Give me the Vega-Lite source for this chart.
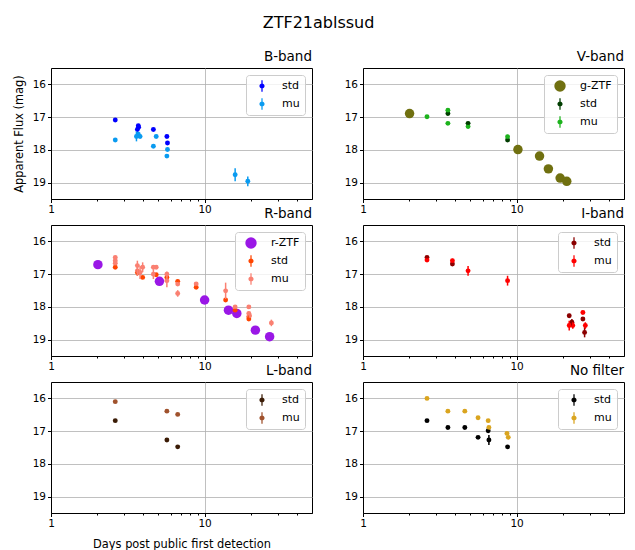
{
  "$schema": "https://vega.github.io/schema/vega-lite/v6.json",
  "padding": {"left": 12, "top": 15, "right": 5, "bottom": 3},
  "title": {"text": "ZTF21ablssud", "fontSize": 16, "fontWeight": "normal", "anchor": "middle", "offset": 18, "color": "#000"},
  "datasets": {
    "B": [
      {"series": "std", "days": 2.62, "mag": 17.09, "err": 0.04},
      {"series": "std", "days": 3.7, "mag": 17.26, "err": 0.05},
      {"series": "std", "days": 3.72, "mag": 17.31, "err": 0.05},
      {"series": "std", "days": 3.65, "mag": 17.38, "err": 0.05},
      {"series": "std", "days": 4.64, "mag": 17.38, "err": 0.04},
      {"series": "std", "days": 5.68, "mag": 17.59, "err": 0.05},
      {"series": "std", "days": 5.73, "mag": 17.79, "err": 0.05},
      {"series": "mu", "days": 2.62, "mag": 17.7, "err": 0.04},
      {"series": "mu", "days": 3.6, "mag": 17.59, "err": 0.15},
      {"series": "mu", "days": 3.8, "mag": 17.59, "err": 0.05},
      {"series": "mu", "days": 3.7, "mag": 17.52, "err": 0.05},
      {"series": "mu", "days": 4.84, "mag": 17.59, "err": 0.05},
      {"series": "mu", "days": 4.64, "mag": 17.89, "err": 0.04},
      {"series": "mu", "days": 5.73, "mag": 17.99, "err": 0.05},
      {"series": "mu", "days": 5.68, "mag": 18.19, "err": 0.05},
      {"series": "mu", "days": 15.8, "mag": 18.76, "err": 0.2},
      {"series": "mu", "days": 19.1, "mag": 18.96, "err": 0.15}
    ],
    "V": [
      {"series": "g-ZTF", "days": 2.01, "mag": 16.89, "err": 0},
      {"series": "g-ZTF", "days": 10.2, "mag": 17.99, "err": 0},
      {"series": "g-ZTF", "days": 14.1, "mag": 18.19, "err": 0},
      {"series": "g-ZTF", "days": 16.1, "mag": 18.58, "err": 0},
      {"series": "g-ZTF", "days": 19.2, "mag": 18.86, "err": 0},
      {"series": "g-ZTF", "days": 21.2, "mag": 18.96, "err": 0},
      {"series": "std", "days": 3.57, "mag": 16.89, "err": 0.05},
      {"series": "std", "days": 4.83, "mag": 17.19, "err": 0.05},
      {"series": "std", "days": 8.73, "mag": 17.7, "err": 0.05},
      {"series": "mu", "days": 2.61, "mag": 16.99, "err": 0.04},
      {"series": "mu", "days": 3.57, "mag": 16.79, "err": 0.06},
      {"series": "mu", "days": 3.57, "mag": 17.19, "err": 0.05},
      {"series": "mu", "days": 4.83, "mag": 17.29, "err": 0.05},
      {"series": "mu", "days": 8.73, "mag": 17.6, "err": 0.06}
    ],
    "R": [
      {"series": "r-ZTF", "days": 2.02, "mag": 16.71, "err": 0},
      {"series": "r-ZTF", "days": 5.08, "mag": 17.22, "err": 0},
      {"series": "r-ZTF", "days": 10.0, "mag": 17.79, "err": 0},
      {"series": "r-ZTF", "days": 14.3, "mag": 18.1, "err": 0},
      {"series": "r-ZTF", "days": 16.2, "mag": 18.2, "err": 0},
      {"series": "r-ZTF", "days": 21.4, "mag": 18.71, "err": 0},
      {"series": "r-ZTF", "days": 26.5, "mag": 18.91, "err": 0},
      {"series": "std", "days": 2.62, "mag": 16.79, "err": 0.05},
      {"series": "std", "days": 3.65, "mag": 16.95, "err": 0.1},
      {"series": "std", "days": 3.95, "mag": 17.1, "err": 0.05},
      {"series": "std", "days": 4.84, "mag": 17.02, "err": 0.05},
      {"series": "std", "days": 5.68, "mag": 17.1, "err": 0.05},
      {"series": "std", "days": 6.68, "mag": 17.22, "err": 0.05},
      {"series": "std", "days": 8.81, "mag": 17.4, "err": 0.05},
      {"series": "std", "days": 13.7, "mag": 17.79, "err": 0.05},
      {"series": "std", "days": 15.8, "mag": 18.1, "err": 0.05},
      {"series": "std", "days": 19.4, "mag": 18.37, "err": 0.05},
      {"series": "std", "days": 19.4, "mag": 18.3, "err": 0.05},
      {"series": "mu", "days": 2.62, "mag": 16.49, "err": 0.05},
      {"series": "mu", "days": 2.62, "mag": 16.59, "err": 0.05},
      {"series": "mu", "days": 2.62, "mag": 16.67, "err": 0.05},
      {"series": "mu", "days": 3.65, "mag": 16.74, "err": 0.15},
      {"series": "mu", "days": 3.65, "mag": 16.9, "err": 0.15},
      {"series": "mu", "days": 3.8, "mag": 16.95, "err": 0.2},
      {"series": "mu", "days": 3.95, "mag": 16.79, "err": 0.15},
      {"series": "mu", "days": 4.64, "mag": 16.79, "err": 0.05},
      {"series": "mu", "days": 4.84, "mag": 16.79, "err": 0.05},
      {"series": "mu", "days": 4.64, "mag": 17.0, "err": 0.15},
      {"series": "mu", "days": 5.68, "mag": 17.0, "err": 0.08},
      {"series": "mu", "days": 5.68, "mag": 17.2, "err": 0.2},
      {"series": "mu", "days": 6.68, "mag": 17.3, "err": 0.06},
      {"series": "mu", "days": 6.68, "mag": 17.59, "err": 0.1},
      {"series": "mu", "days": 8.81, "mag": 17.3, "err": 0.05},
      {"series": "mu", "days": 13.7, "mag": 17.51, "err": 0.25},
      {"series": "mu", "days": 15.8, "mag": 18.0, "err": 0.06},
      {"series": "mu", "days": 19.4, "mag": 18.0, "err": 0.06},
      {"series": "mu", "days": 19.4, "mag": 18.2, "err": 0.06},
      {"series": "mu", "days": 19.6, "mag": 18.27, "err": 0.06},
      {"series": "mu", "days": 27.2, "mag": 18.49, "err": 0.1}
    ],
    "I": [
      {"series": "std", "days": 2.61, "mag": 16.49, "err": 0.04},
      {"series": "std", "days": 3.82, "mag": 16.69, "err": 0.04},
      {"series": "std", "days": 22.0, "mag": 18.27, "err": 0.06},
      {"series": "std", "days": 22.9, "mag": 18.47, "err": 0.1},
      {"series": "std", "days": 27.0, "mag": 18.37, "err": 0.05},
      {"series": "std", "days": 27.7, "mag": 18.78, "err": 0.15},
      {"series": "mu", "days": 2.61, "mag": 16.57, "err": 0.05},
      {"series": "mu", "days": 3.82, "mag": 16.59, "err": 0.06},
      {"series": "mu", "days": 4.83, "mag": 16.9, "err": 0.15},
      {"series": "mu", "days": 8.73, "mag": 17.2, "err": 0.15},
      {"series": "mu", "days": 22.0, "mag": 18.57, "err": 0.15},
      {"series": "mu", "days": 23.2, "mag": 18.57, "err": 0.1},
      {"series": "mu", "days": 27.0, "mag": 18.17, "err": 0.05},
      {"series": "mu", "days": 28.0, "mag": 18.57, "err": 0.1}
    ],
    "L": [
      {"series": "std", "days": 2.62, "mag": 16.68, "err": 0.03},
      {"series": "std", "days": 5.68, "mag": 17.27, "err": 0.04},
      {"series": "std", "days": 6.68, "mag": 17.48, "err": 0.04},
      {"series": "mu", "days": 2.62, "mag": 16.1, "err": 0.03},
      {"series": "mu", "days": 5.68, "mag": 16.39, "err": 0.04},
      {"series": "mu", "days": 6.68, "mag": 16.49, "err": 0.04}
    ],
    "N": [
      {"series": "std", "days": 2.61, "mag": 16.68, "err": 0.03},
      {"series": "std", "days": 3.57, "mag": 16.89, "err": 0.03},
      {"series": "std", "days": 4.6, "mag": 16.89, "err": 0.03},
      {"series": "std", "days": 5.61, "mag": 17.19, "err": 0.04},
      {"series": "std", "days": 6.53, "mag": 16.99, "err": 0.04},
      {"series": "std", "days": 6.6, "mag": 17.27, "err": 0.15},
      {"series": "std", "days": 8.73, "mag": 17.48, "err": 0.04},
      {"series": "mu", "days": 2.61, "mag": 16.0, "err": 0.03},
      {"series": "mu", "days": 3.57, "mag": 16.39, "err": 0.04},
      {"series": "mu", "days": 4.6, "mag": 16.39, "err": 0.04},
      {"series": "mu", "days": 5.61, "mag": 16.59, "err": 0.04},
      {"series": "mu", "days": 6.53, "mag": 16.68, "err": 0.05},
      {"series": "mu", "days": 6.6, "mag": 16.89, "err": 0.05},
      {"series": "mu", "days": 8.65, "mag": 17.07, "err": 0.04},
      {"series": "mu", "days": 8.82, "mag": 17.19, "err": 0.04}
    ]
  },
  "columns": 2,
  "spacing": {"row": 26, "column": 51},
  "bounds": "flush",
  "resolve": {"scale": {"color": "independent"}, "legend": {"color": "independent"}},
  "concat": [
    {
      "title": {"text": "B-band"},
      "width": 261, "height": 131,
      "data": {"name": "B"},
      "encoding": {
        "x": {"field": "days", "type": "quantitative", "scale": {"type": "log", "domain": [1, 50], "nice": false},
              "axis": {"title": null, "values": [1,2,3,4,5,6,7,8,9,10,20,30,40], "labelExpr": "datum.value == 1 || datum.value == 10 ? datum.label : ''",
                       "gridOpacity": {"condition": {"test": "datum.value == 1 || datum.value == 10", "value": 1}, "value": 0},
                       "tickSize": {"condition": {"test": "datum.value == 1 || datum.value == 10", "value": 3.5}, "value": 2}}},
        "y": {"field": "mag", "type": "quantitative", "scale": {"domain": [15.5, 19.5], "reverse": true, "nice": false, "zero": false},
              "axis": {"title": "Apparent Flux (mag)", "values": [16, 17, 18, 19]}},
        "color": {"field": "series", "type": "nominal", "scale": {"domain": ["std", "mu"], "range": ["#0000ff", "#0a9bf0"]}, "legend": {"title": null}}
      },
      "layer": [
        {"mark": {"type": "point", "filled": true, "size": 24, "opacity": 1}},
        {"mark": {"type": "errorbar", "thickness": 1.5}, "encoding": {"yError": {"field": "err"}}}
      ]
    },
    {
      "title": {"text": "V-band"},
      "width": 261, "height": 131,
      "data": {"name": "V"},
      "encoding": {
        "x": {"field": "days", "type": "quantitative", "scale": {"type": "log", "domain": [1, 50], "nice": false},
              "axis": {"title": null, "values": [1,2,3,4,5,6,7,8,9,10,20,30,40], "labelExpr": "datum.value == 1 || datum.value == 10 ? datum.label : ''",
                       "gridOpacity": {"condition": {"test": "datum.value == 1 || datum.value == 10", "value": 1}, "value": 0},
                       "tickSize": {"condition": {"test": "datum.value == 1 || datum.value == 10", "value": 3.5}, "value": 2}}},
        "y": {"field": "mag", "type": "quantitative", "scale": {"domain": [15.5, 19.5], "reverse": true, "nice": false, "zero": false},
              "axis": {"title": null, "values": [16, 17, 18, 19]}},
        "color": {"field": "series", "type": "nominal", "scale": {"domain": ["g-ZTF", "std", "mu"], "range": ["#707010", "#003d00", "#1db31d"]},
                  "legend": {"title": null, "encode": {"symbols": {"update": {"shape": {"signal": "datum.value === 'g-ZTF' ? 'circle' : 'M-0.45,0A0.45,0.45,0,1,1,0.45,0A0.45,0.45,0,1,1,-0.45,0ZM-0.11,-1L0.11,-1L0.11,1L-0.11,1Z'"}}}}}}
      },
      "layer": [
        {"transform": [{"filter": "datum.series == 'g-ZTF'"}], "mark": {"type": "point", "filled": true, "size": 90, "opacity": 1}},
        {"transform": [{"filter": "datum.series != 'g-ZTF'"}], "mark": {"type": "point", "filled": true, "size": 24, "opacity": 1}},
        {"transform": [{"filter": "datum.series != 'g-ZTF'"}], "mark": {"type": "errorbar", "thickness": 1.5}, "encoding": {"yError": {"field": "err"}}}
      ]
    },
    {
      "title": {"text": "R-band"},
      "width": 261, "height": 131,
      "data": {"name": "R"},
      "encoding": {
        "x": {"field": "days", "type": "quantitative", "scale": {"type": "log", "domain": [1, 50], "nice": false},
              "axis": {"title": null, "values": [1,2,3,4,5,6,7,8,9,10,20,30,40], "labelExpr": "datum.value == 1 || datum.value == 10 ? datum.label : ''",
                       "gridOpacity": {"condition": {"test": "datum.value == 1 || datum.value == 10", "value": 1}, "value": 0},
                       "tickSize": {"condition": {"test": "datum.value == 1 || datum.value == 10", "value": 3.5}, "value": 2}}},
        "y": {"field": "mag", "type": "quantitative", "scale": {"domain": [15.5, 19.5], "reverse": true, "nice": false, "zero": false},
              "axis": {"title": null, "values": [16, 17, 18, 19]}},
        "color": {"field": "series", "type": "nominal", "scale": {"domain": ["r-ZTF", "std", "mu"], "range": ["#9a17e6", "#ff4500", "#fa8072"]},
                  "legend": {"title": null, "encode": {"symbols": {"update": {"shape": {"signal": "datum.value === 'r-ZTF' ? 'circle' : 'M-0.45,0A0.45,0.45,0,1,1,0.45,0A0.45,0.45,0,1,1,-0.45,0ZM-0.11,-1L0.11,-1L0.11,1L-0.11,1Z'"}}}}}}
      },
      "layer": [
        {"transform": [{"filter": "datum.series == 'r-ZTF'"}], "mark": {"type": "point", "filled": true, "size": 90, "opacity": 1}},
        {"transform": [{"filter": "datum.series != 'r-ZTF'"}], "mark": {"type": "point", "filled": true, "size": 24, "opacity": 1}},
        {"transform": [{"filter": "datum.series != 'r-ZTF'"}], "mark": {"type": "errorbar", "thickness": 1.5}, "encoding": {"yError": {"field": "err"}}}
      ]
    },
    {
      "title": {"text": "I-band"},
      "width": 261, "height": 131,
      "data": {"name": "I"},
      "encoding": {
        "x": {"field": "days", "type": "quantitative", "scale": {"type": "log", "domain": [1, 50], "nice": false},
              "axis": {"title": null, "values": [1,2,3,4,5,6,7,8,9,10,20,30,40], "labelExpr": "datum.value == 1 || datum.value == 10 ? datum.label : ''",
                       "gridOpacity": {"condition": {"test": "datum.value == 1 || datum.value == 10", "value": 1}, "value": 0},
                       "tickSize": {"condition": {"test": "datum.value == 1 || datum.value == 10", "value": 3.5}, "value": 2}}},
        "y": {"field": "mag", "type": "quantitative", "scale": {"domain": [15.5, 19.5], "reverse": true, "nice": false, "zero": false},
              "axis": {"title": null, "values": [16, 17, 18, 19]}},
        "color": {"field": "series", "type": "nominal", "scale": {"domain": ["std", "mu"], "range": ["#8b0000", "#ff0000"]}, "legend": {"title": null}}
      },
      "layer": [
        {"mark": {"type": "point", "filled": true, "size": 24, "opacity": 1}},
        {"mark": {"type": "errorbar", "thickness": 1.5}, "encoding": {"yError": {"field": "err"}}}
      ]
    },
    {
      "title": {"text": "L-band"},
      "width": 261, "height": 131,
      "data": {"name": "L"},
      "encoding": {
        "x": {"field": "days", "type": "quantitative", "scale": {"type": "log", "domain": [1, 50], "nice": false},
              "axis": {"title": "Days post public first detection", "titlePadding": 9, "values": [1,2,3,4,5,6,7,8,9,10,20,30,40], "labelExpr": "datum.value == 1 || datum.value == 10 ? datum.label : ''",
                       "gridOpacity": {"condition": {"test": "datum.value == 1 || datum.value == 10", "value": 1}, "value": 0},
                       "tickSize": {"condition": {"test": "datum.value == 1 || datum.value == 10", "value": 3.5}, "value": 2}}},
        "y": {"field": "mag", "type": "quantitative", "scale": {"domain": [15.5, 19.5], "reverse": true, "nice": false, "zero": false},
              "axis": {"title": null, "values": [16, 17, 18, 19]}},
        "color": {"field": "series", "type": "nominal", "scale": {"domain": ["std", "mu"], "range": ["#3b1c06", "#a0522d"]}, "legend": {"title": null}}
      },
      "layer": [
        {"mark": {"type": "point", "filled": true, "size": 24, "opacity": 1}},
        {"mark": {"type": "errorbar", "thickness": 1.5}, "encoding": {"yError": {"field": "err"}}}
      ]
    },
    {
      "title": {"text": "No filter"},
      "width": 261, "height": 131,
      "data": {"name": "N"},
      "encoding": {
        "x": {"field": "days", "type": "quantitative", "scale": {"type": "log", "domain": [1, 50], "nice": false},
              "axis": {"title": null, "values": [1,2,3,4,5,6,7,8,9,10,20,30,40], "labelExpr": "datum.value == 1 || datum.value == 10 ? datum.label : ''",
                       "gridOpacity": {"condition": {"test": "datum.value == 1 || datum.value == 10", "value": 1}, "value": 0},
                       "tickSize": {"condition": {"test": "datum.value == 1 || datum.value == 10", "value": 3.5}, "value": 2}}},
        "y": {"field": "mag", "type": "quantitative", "scale": {"domain": [15.5, 19.5], "reverse": true, "nice": false, "zero": false},
              "axis": {"title": null, "values": [16, 17, 18, 19]}},
        "color": {"field": "series", "type": "nominal", "scale": {"domain": ["std", "mu"], "range": ["#000000", "#daa520"]}, "legend": {"title": null}}
      },
      "layer": [
        {"mark": {"type": "point", "filled": true, "size": 24, "opacity": 1}},
        {"mark": {"type": "errorbar", "thickness": 1.5}, "encoding": {"yError": {"field": "err"}}}
      ]
    }
  ],
  "config": {
    "font": "DejaVu Sans",
    "view": {"stroke": "#000", "strokeWidth": 1},
    "title": {"fontSize": 13.5, "fontWeight": "normal", "anchor": "end", "offset": 5, "color": "#000"},
    "axis": {"domainColor": "#000", "tickColor": "#000", "labelColor": "#000", "labelFontSize": 10.5, "titleFontSize": 11.4,
             "titleFontWeight": "normal", "titleColor": "#000", "gridColor": "#b0b0b0", "gridWidth": 0.8, "labelPadding": 2, "labelFlush": false},
    "axisX": {"titlePadding": 6},
    "axisY": {"tickSize": 3.5, "titlePadding": 8},
    "legend": {"orient": "top-right", "offset": 7, "fillColor": "rgba(255,255,255,0.8)", "strokeColor": "#cccccc", "cornerRadius": 3,
               "padding": 5, "labelFontSize": 11, "labelColor": "#000", "symbolSize": 130, "rowPadding": 6, "labelOffset": 14, "symbolOffset": 5,
               "symbolStrokeWidth": 0, "symbolOpacity": 1,
               "symbolType": "M-0.45,0A0.45,0.45,0,1,1,0.45,0A0.45,0.45,0,1,1,-0.45,0ZM-0.11,-1L0.11,-1L0.11,1L-0.11,1Z"}
  }
}
